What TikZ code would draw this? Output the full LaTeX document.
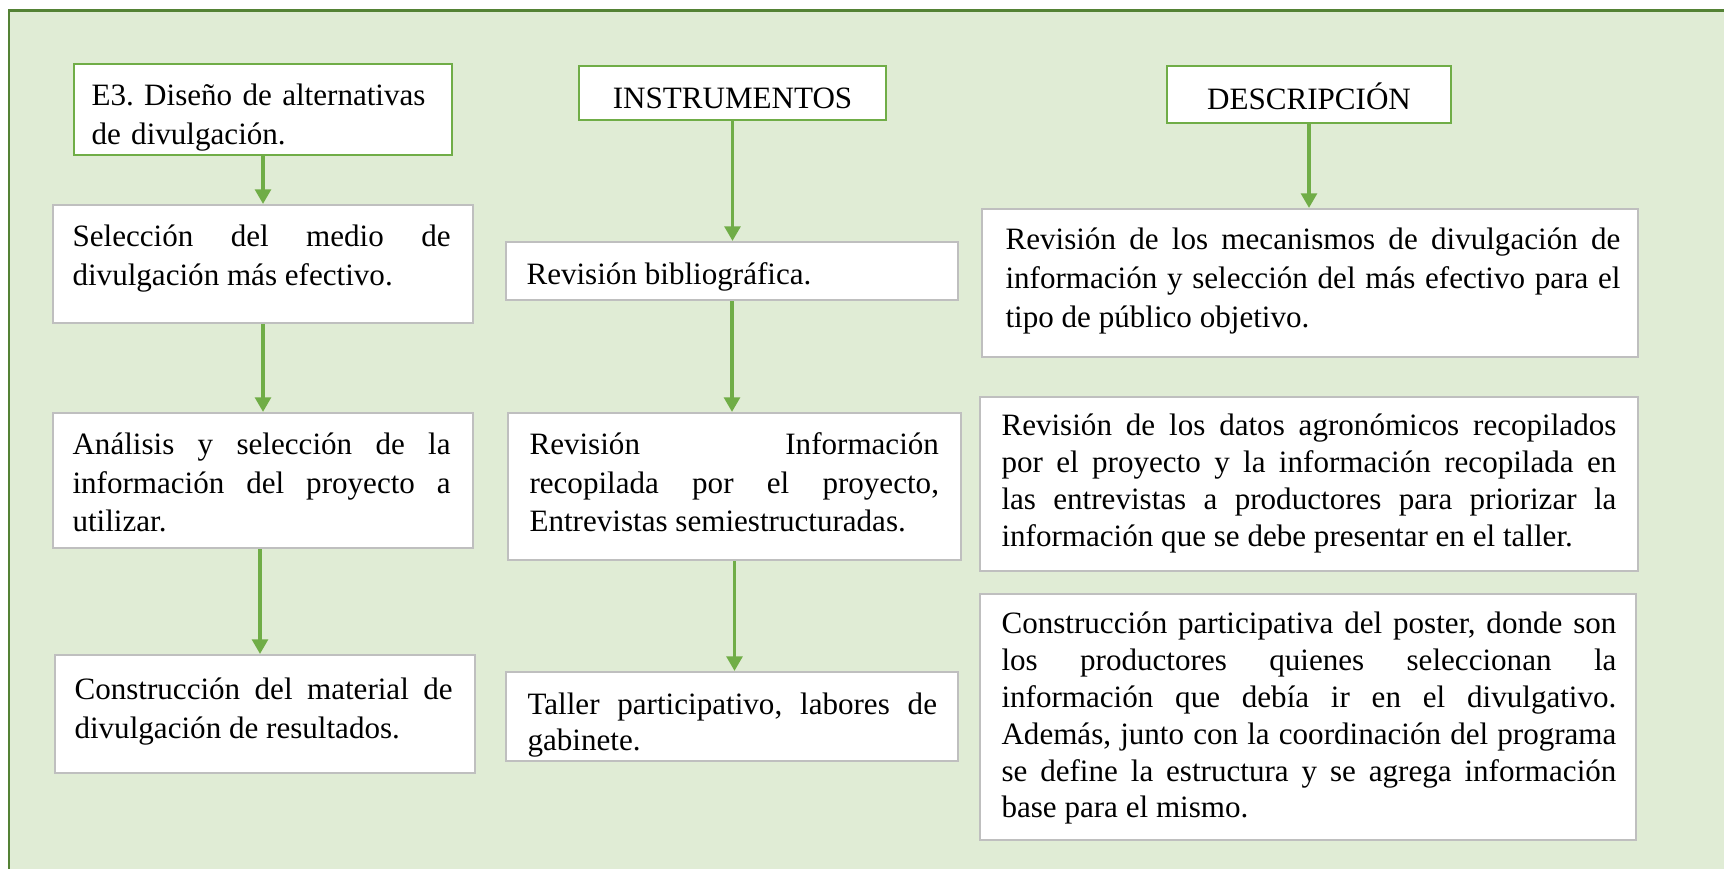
\documentclass[tikz,border=0pt]{standalone}
\usepackage{fontspec}
\setmainfont{Liberation Serif}
\usetikzlibrary{arrows.meta,calc,fit}
\definecolor{bgG}{HTML}{E0ECD5}
\definecolor{frameG}{HTML}{548235}
\definecolor{lineG}{HTML}{70AD47}
\definecolor{boxGray}{HTML}{BFBFBF}
\hyphenpenalty=10000
\exhyphenpenalty=10000
\tolerance=10000
\hbadness=10000
\frenchspacing
\begin{document}
\frenchspacing
\begin{tikzpicture}[x=0.37pt,y=-0.37pt,
  greenbox/.style={draw=lineG, line width=0.9pt, fill=white, inner sep=0pt},
  graybox/.style={draw=boxGray, line width=0.75pt, fill=white, inner sep=0pt},
  txtA/.style={inner sep=0pt, anchor=base west, text width=139.9pt, align=justify,
    font=\fontsize{11.5pt}{14.2pt}\selectfont\frenchspacing},
  txtB/.style={inner sep=0pt, anchor=base west, text width=151.5pt, align=justify,
    font=\fontsize{11.5pt}{14.2pt}\selectfont\frenchspacing},
  txtC/.style={inner sep=0pt, anchor=base west, text width=227.5pt, align=justify,
    font=\fontsize{11.5pt}{13.6pt}\selectfont\frenchspacing},
  head/.style={inner sep=0pt, font=\fontsize{11.5pt}{14.2pt}\selectfont\frenchspacing},
  arr/.style={draw=lineG, line width=1.3pt, -{Triangle[length=5.4pt,width=5.8pt]}}
]
\useasboundingbox (0,0) rectangle (1724,869);
\clip (0,0) rectangle (1724,869);
\fill[white] (0,0) rectangle (1724,869);
\fill[bgG] (9,11) rectangle (1740,890);
\draw[frameG, line width=1.1pt] (9,890) -- (9,11) -- (1740,11);

% headers
\node[greenbox, fit={(74,64) (452,155)}] (e3) {};
\node[head, anchor=base west, text width=139.9pt, align=left] at (91,106) {E3. Diseño de alternativas\\ de divulgación.};
\node[greenbox, fit={(579,66) (886,120)}] (instr) {};
\node[head, anchor=base] at ($(instr.south)+(0,-13)$) {INSTRUMENTOS};
\node[greenbox, fit={(1167,66) (1451,123)}] (desc) {};
\node[head, anchor=base] at ($(desc.south)+(0,-15)$) {DESCRIPCIÓN};

% column 1
\node[graybox, fit={(53,205) (473,323)}] (sel) {};
\node[txtA] at ($(sel.north west)+(20,43)$) {Selección del medio de\linebreak divulgación más efectivo.};
\node[graybox, fit={(53,413) (473,548)}] (anal) {};
\node[txtA] at ($(anal.north west)+(20,43)$) {Análisis y selección de la\linebreak información del proyecto a\linebreak utilizar.};
\node[graybox, fit={(55,655) (475,773)}] (constr) {};
\node[txtA] at ($(constr.north west)+(20,46)$) {Construcción del material de\linebreak divulgación de resultados.};

% column 2
\node[graybox, fit={(506,242) (958,300)}] (rbib) {};
\node[txtB] at ($(rbib.north west)+(21,44)$) {Revisión bibliográfica.};
\node[graybox, fit={(508,413) (961,560)}] (rinf) {};
\node[txtB] at ($(rinf.north west)+(22,43)$) {Revisión Información\linebreak recopilada por el proyecto,\linebreak Entrevistas semiestructuradas.};
\node[graybox, fit={(506,672) (958,761)}] (taller) {};
\node[txtB, font=\fontsize{11.5pt}{13.2pt}\selectfont\frenchspacing] at ($(taller.north west)+(22,44)$) {Taller participativo, labores de\linebreak gabinete.};

% column 3
\node[graybox, fit={(982,209) (1638,357)}] (d1) {};
\node[txtC, font=\fontsize{11.5pt}{14.25pt}\selectfont\frenchspacing] at ($(d1.north west)+(24,42)$) {Revisión de los mecanismos de divulgación de\linebreak información y selección del más efectivo para el\linebreak tipo de público objetivo.};
\node[graybox, fit={(980,397) (1638,571)}] (d2) {};
\node[txtC] at ($(d2.north west)+(22,40)$) {Revisión de los datos agronómicos recopilados\linebreak por el proyecto y la información recopilada en\linebreak las entrevistas a productores para priorizar la\linebreak información que se debe presentar en el taller.};
\node[graybox, fit={(980,594) (1636,840)}] (d3) {};
\node[txtC] at ($(d3.north west)+(22,41)$) {Construcción participativa del poster, donde son\linebreak los productores quienes seleccionan la\linebreak información que debía ir en el divulgativo.\linebreak Además, junto con la coordinación del programa\linebreak se define la estructura y se agrega información\linebreak base para el mismo.};

% connectors
\coordinate (aS) at ($(anal.south)+(-3,0)$);
\draw[arr] (e3.south) -- (e3.south |- sel.north);
\draw[arr] (sel.south) -- (sel.south |- anal.north);
\draw[arr] (aS) -- (aS |- constr.north);
\draw[arr] (instr.south) -- (instr.south |- rbib.north);
\draw[arr] (rbib.south) -- (rbib.south |- rinf.north);
\draw[arr] (rinf.south) -- (rinf.south |- taller.north);
\draw[arr] (desc.south) -- (desc.south |- d1.north);
\end{tikzpicture}
\end{document}
